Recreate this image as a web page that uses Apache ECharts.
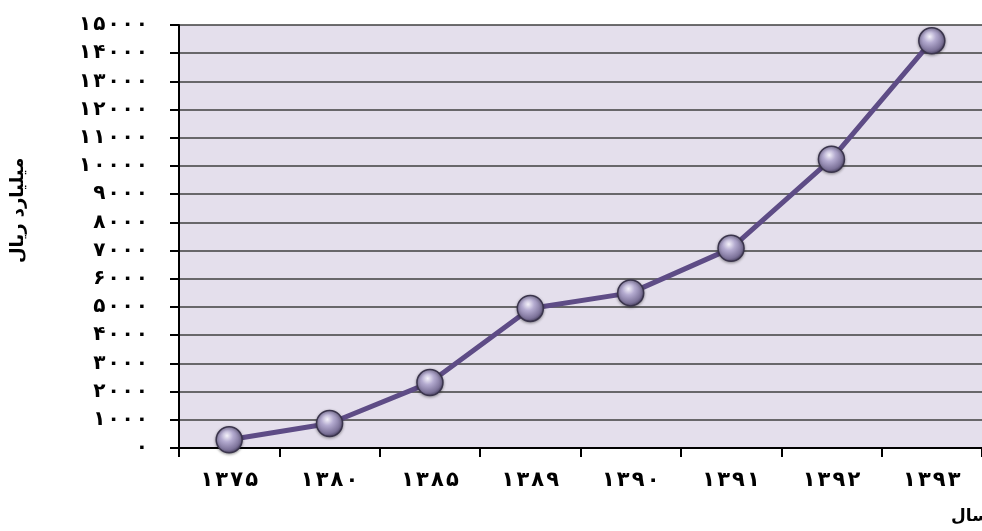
<!DOCTYPE html>
<html>
<head>
<meta charset="utf-8">
<script src="https://cdn.jsdelivr.net/npm/echarts@6/dist/echarts.min.js"></script>
<style>html,body{margin:0;padding:0;background:#fff}#c{width:982px;height:531px}</style>
</head>
<body>
<div id="c"></div>
<script>
var categories = ['۱۳۷۵', '۱۳۸۰', '۱۳۸۵', '۱۳۸۹', '۱۳۹۰', '۱۳۹۱', '۱۳۹۲', '۱۳۹۳'];
var values = [290, 870, 2320, 4950, 5500, 7080, 10240, 14440];
var yTitle = 'میلیارد ریال';
var xTitle = 'سال';

var faDigits = ['۰','۱','۲','۳','۴','۵','۶','۷','۸','۹'];
function toFa(n) {
  return String(n).split('').map(function (d) { return faDigits[+d] || d; }).join('');
}
function spaced(s) { return s.split('').join('\u200A'); }

var font = 'DejaVu Sans';
var chart = echarts.init(document.getElementById('c'));
chart.setOption({
  animation: false,
  grid: { left: 179, right: 0, top: 25, bottom: 83, show: true, backgroundColor: '#E4DFEC', borderWidth: 0 },
  xAxis: {
    type: 'category',
    data: categories,
    boundaryGap: true,
    axisLine: { lineStyle: { color: '#000', width: 2 } },
    axisTick: { show: true, alignWithLabel: false, length: 9, lineStyle: { color: '#000', width: 2 } },
    axisLabel: { margin: 22, color: '#000', fontFamily: font, fontWeight: 'bold', fontSize: 21,
      formatter: function (v) { return spaced(v); } }
  },
  yAxis: {
    type: 'value',
    min: 0, max: 15000, interval: 1000,
    axisLine: { show: true, lineStyle: { color: '#000', width: 2 } },
    axisTick: { show: true, length: 9, lineStyle: { color: '#000', width: 2 } },
    splitLine: { lineStyle: { color: '#3f3f3f', width: 1.6 } },
    axisLabel: { margin: 31, color: '#000', fontFamily: font, fontWeight: 'bold', fontSize: 20,
      formatter: function (v) { return spaced(toFa(v)); } }
  },
  series: [{
    type: 'line',
    data: values,
    symbol: 'circle',
    symbolSize: 26,
    lineStyle: { color: '#5E4C86', width: 5 },
    itemStyle: {
      color: new echarts.graphic.RadialGradient(0.42, 0.35, 0.65, [
        { offset: 0, color: '#F4F2FA' },
        { offset: 0.35, color: '#B3AACF' },
        { offset: 0.8, color: '#7C7299' },
        { offset: 1, color: '#4F4768' }
      ]),
      borderColor: '#3A344C',
      borderWidth: 1.5,
      shadowColor: 'rgba(0,0,0,0.35)',
      shadowBlur: 3,
      shadowOffsetY: 1
    },
    z: 3
  }],
  graphic: [
    { type: 'text', x: 9, y: 263, rotation: Math.PI / 2,
      style: { text: yTitle, fontFamily: font, fontWeight: 'bold', fontSize: 18, fill: '#000' } },
    { type: 'text', x: 951, y: 508,
      style: { text: xTitle, fontFamily: font, fontWeight: 'bold', fontSize: 17, fill: '#000' } }
  ]
});
</script>
</body>
</html>
